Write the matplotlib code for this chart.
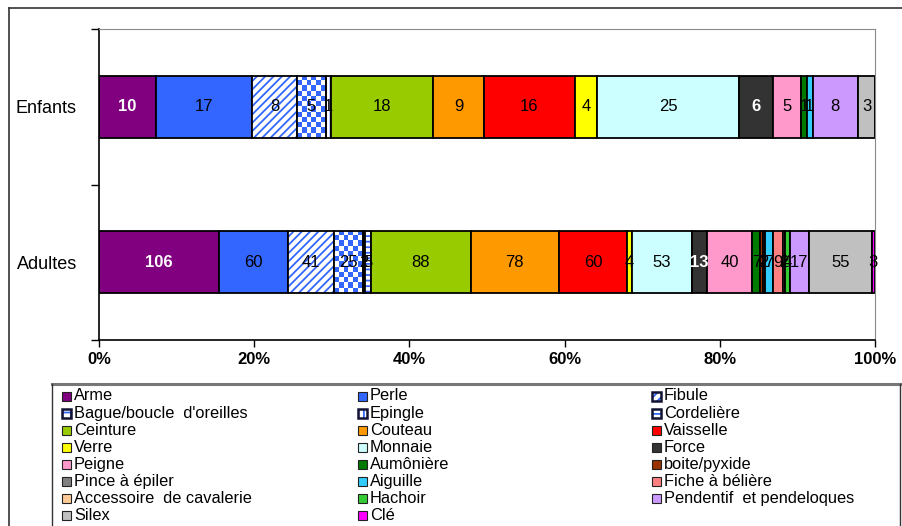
import matplotlib
matplotlib.use("Agg")
import matplotlib.pyplot as plt
from matplotlib.colors import ListedColormap
from matplotlib.patches import Rectangle
from matplotlib.lines import Line2D
import numpy as np

plt.rcParams['font.family'] = ['Liberation Sans', 'DejaVu Sans']
plt.rcParams['hatch.linewidth'] = 1.3

groups = ["Adultes", "Enfants"]
categories = ["Arme", "Perle", "Fibule",
              "Bague/boucle  d'oreilles", "Epingle", "Cordelière",
              "Ceinture", "Couteau", "Vaisselle",
              "Verre", "Monnaie", "Force",
              "Peigne", "Aumônière", "boite/pyxide",
              "Pince à épiler", "Aiguille", "Fiche à bélière",
              "Accessoire  de cavalerie", "Hachoir", "Pendentif  et pendeloques",
              "Silex", "Clé"]
enfants = [10, 17, 8, 5, 1, 0, 18, 9, 16, 4, 25, 6, 5, 1, 0, 0, 1, 0, 0, 0, 8, 3, 0]
adultes = [106, 60, 41, 25, 2, 5, 88, 78, 60, 4, 53, 13, 40, 7, 2, 2, 7, 9, 2, 4, 17, 55, 3]
colors = ["#800080", "#3366FF", "white", "white", "white", "white",
          "#99CC00", "#FF9900", "#FF0000", "#FFFF00", "#CCFFFF", "#333333",
          "#FF99CC", "#007A00", "#993300", "#808080", "#33CCFF", "#FF8080",
          "#FFCC99", "#33CC33", "#CC99FF", "#C0C0C0", "#FF00FF"]
hatches = {2: "////", 4: "|||", 5: "---"}
white_text = {0, 11}
checker_idx = 3

W, H = 903, 526
fig = plt.figure(figsize=(W / 100, H / 100), dpi=100)


def fx(x):
    return x / W


def fy(y):
    return 1 - y / H


ax = fig.add_axes([fx(99), fy(340), fx(875) - fx(99), fy(29) - fy(340)])

vals = np.array([adultes, enfants], dtype=float)
pct = vals / vals.sum(axis=1, keepdims=True)
left = np.zeros(2)
ypos = np.arange(2)
bh = 0.4

for i, name in enumerate(categories):
    w = pct[:, i]
    if i in hatches:
        ax.barh(ypos, w, left=left, height=bh, color="white",
                edgecolor="#3366FF", hatch=hatches[i], linewidth=0)
        ax.barh(ypos, w, left=left, height=bh, fill=False,
                edgecolor="black", linewidth=1.3)
    elif i == checker_idx:
        for j in range(2):
            if w[j] <= 0:
                continue
            wpx = w[j] * 776
            nc = max(1, int(round(wpx / 5)))
            nr = 12
            chk = (np.indices((nr, nc)).sum(axis=0) % 2)
            rect = Rectangle((left[j], ypos[j] - bh / 2), w[j], bh,
                             facecolor="none", edgecolor="none")
            ax.add_patch(rect)
            im = ax.imshow(chk, extent=(left[j], left[j] + w[j],
                                        ypos[j] - bh / 2, ypos[j] + bh / 2),
                           cmap=ListedColormap(["white", "#3366FF"]),
                           aspect="auto", interpolation="nearest", zorder=1)
            im.set_clip_path(rect)
        ax.barh(ypos, w, left=left, height=bh, fill=False,
                edgecolor="black", linewidth=1.3, zorder=2)
    else:
        ax.barh(ypos, w, left=left, height=bh, color=colors[i],
                edgecolor="black", linewidth=1.3)
    for j in range(2):
        if vals[j, i] > 0:
            tc = "white" if i in white_text else "black"
            ax.text(left[j] + w[j] / 2, ypos[j], "%d" % vals[j, i],
                    ha="center", va="center", fontsize=12, color=tc,
                    fontweight="bold" if i in white_text else "normal",
                    zorder=5)
    left += w

ax.set_xlim(0, 1)
ax.set_ylim(-0.5, 1.5)
ax.set_xticks(np.linspace(0, 1, 6))
ax.set_xticklabels(["%d%%" % v for v in range(0, 101, 20)],
                   fontsize=12, fontweight="bold")
ax.set_yticks(ypos)
ax.set_yticklabels(groups, fontsize=13)
ax.set_yticks([-0.5, 0.5, 1.5], minor=True)
ax.tick_params(axis="y", which="major", length=0, pad=16)
ax.tick_params(axis="y", which="minor", length=6, width=1)
ax.tick_params(axis="x", length=5, width=1, pad=4)
for s in ["top", "right"]:
    ax.spines[s].set_color("#8a8a8a")
ax.spines["left"].set_linewidth(1.2)
ax.spines["bottom"].set_linewidth(1.2)

# outer chart frame
fig.add_artist(Line2D([fx(9), fx(903)], [fy(8), fy(8)], color="#333333", lw=1.2))
fig.add_artist(Line2D([fx(9), fx(9)], [fy(8), fy(526)], color="#333333", lw=1.2))

# legend box
fig.add_artist(Line2D([fx(52), fx(900)], [fy(384), fy(384)], color="#777777", lw=2.2))
fig.add_artist(Line2D([fx(52), fx(52)], [fy(384), fy(526)], color="#333333", lw=1))
fig.add_artist(Line2D([fx(900), fx(900)], [fy(384), fy(526)], color="#333333", lw=1))

col_x = [62, 358, 652]
for i, name in enumerate(categories):
    r, c = divmod(i, 3)
    x0 = col_x[c]
    yc = 396 + r * 17.1
    sq = 9
    if i in hatches or i == checker_idx:
        fig.add_artist(Rectangle((fx(x0), fy(yc + sq / 2)), sq / W, sq / H,
                                 facecolor="white", edgecolor="#3366FF",
                                 hatch=hatches.get(i, "++"), lw=0,
                                 transform=fig.transFigure))
        fig.add_artist(Rectangle((fx(x0), fy(yc + sq / 2)), sq / W, sq / H,
                                 fill=False, edgecolor="#111133", lw=1.8,
                                 transform=fig.transFigure))
    else:
        fig.add_artist(Rectangle((fx(x0), fy(yc + sq / 2)), sq / W, sq / H,
                                 facecolor=colors[i], edgecolor="#222222",
                                 lw=0.8, transform=fig.transFigure))
    fig.text(fx(x0 + 12), fy(yc), name, fontsize=11.8, va="center", ha="left")

fig.savefig("out.png", dpi=100, facecolor="white")
